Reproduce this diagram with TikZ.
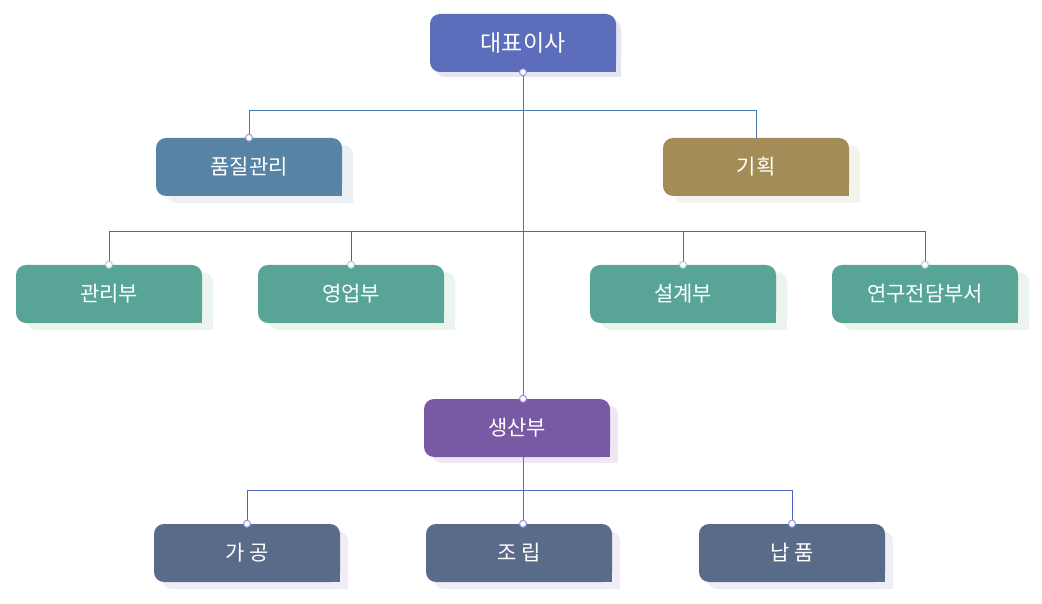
\documentclass[tikz,border=0pt]{standalone}
\usepackage{fontspec}
\setmainfont{Noto Sans CJK KR}
\definecolor{ceoC}{HTML}{5B6DBB}
\definecolor{ceoS}{HTML}{E4E5F3}
\definecolor{qcC}{HTML}{5784A5}
\definecolor{qcS}{HTML}{ECF0F4}
\definecolor{planC}{HTML}{A38C56}
\definecolor{planS}{HTML}{F4F3EC}
\definecolor{grnC}{HTML}{58A597}
\definecolor{grnS}{HTML}{ECF4EE}
\definecolor{prodC}{HTML}{7759A4}
\definecolor{prodS}{HTML}{EEE8F3}
\definecolor{slC}{HTML}{5A6A89}
\definecolor{slS}{HTML}{EFEDF5}
\definecolor{lineA}{HTML}{4A7AA6}
\definecolor{lineB}{HTML}{4E63BE}
\definecolor{dotB}{HTML}{9096D8}
\definecolor{dotG}{HTML}{9ED0C6}
\tikzset{
  boxtext/.style={text=white, inner sep=0pt, minimum width=186pt, minimum height=58pt, font=\fontsize{21}{25}\selectfont},
  conn/.style={line width=1pt},
  jdot/.style={fill=white, draw=#1, line width=1pt},
}
\newcommand\orgbox[8]{%
  \fill[#5, rounded corners=10pt] (#2-93+#6, #3-29+#7) rectangle (#2+93+#6, #3+29+#7);
  \fill[#5] (#2+83+#6, #3+19+#7) rectangle (#2+93+#6, #3+29+#7);
  \fill[#4, rounded corners=10pt] (#2-93, #3-29) rectangle (#2+93, #3+29);
  \fill[#4] (#2+83, #3+19) rectangle (#2+93, #3+29);
  \node[boxtext] (#1) at (#2,#3) {#8};
}
\begin{document}
\begin{tikzpicture}[x=1pt, y=-1pt]
\useasboundingbox[fill=white] (0,0) rectangle (1042,604);
\orgbox{ceo}{523}{43}{ceoC}{ceoS}{5}{5}{\fontsize{23}{27}\selectfont 대표이사}
\orgbox{qc}{249}{167}{qcC}{qcS}{11}{7}{품질관리}
\orgbox{plan}{756}{167}{planC}{planS}{11}{7}{기획}
\orgbox{adm}{109}{294}{grnC}{grnS}{11}{7}{관리부}
\orgbox{sales}{351}{294}{grnC}{grnS}{11}{7}{영업부}
\orgbox{design}{683}{294}{grnC}{grnS}{11}{7}{설계부}
\orgbox{rnd}{925}{294}{grnC}{grnS}{11}{7}{연구전담부서}
\orgbox{prod}{517}{428}{prodC}{prodS}{8}{6}{생산부}
\orgbox{mk}{247}{553}{slC}{slS}{8}{7}{가 공}
\orgbox{asm}{519}{553}{slC}{slS}{8}{7}{조 립}
\orgbox{dl}{792}{553}{slC}{slS}{8}{7}{납 품}
% connectors
\draw[conn, lineA] (ceo.south) -- (ceo.south |- prod.north);
\draw[conn, lineA] (qc.north) -- ++(0,-27) -| (plan.north);
\draw[conn, lineB] (adm.north) -- ++(0,-33) -| (rnd.north);
\draw[conn, lineB] (sales.north) -- ++(0,-33);
\draw[conn, lineB] (design.north) -- ++(0,-33);
\draw[conn, lineA] (ceo.south |- prod.south) -- (ceo.south |- asm.north);
\draw[conn, lineB] (mk.north) -- ++(0,-33) -| (dl.north);
% junction dots
\draw[jdot=dotB] (ceo.south) circle (3.5pt);
\draw[jdot=dotB] (qc.north) circle (3.5pt);
\draw[jdot=dotG] (adm.north) circle (3.5pt);
\draw[jdot=dotG] (sales.north) circle (3.5pt);
\draw[jdot=dotG] (design.north) circle (3.5pt);
\draw[jdot=dotG] (rnd.north) circle (3.5pt);
\draw[jdot=dotB] (ceo.south |- prod.north) circle (3.5pt);
\draw[jdot=dotB] (mk.north) circle (3.5pt);
\draw[jdot=dotB] (ceo.south |- asm.north) circle (3.5pt);
\draw[jdot=dotB] (dl.north) circle (3.5pt);
\end{tikzpicture}
\end{document}
